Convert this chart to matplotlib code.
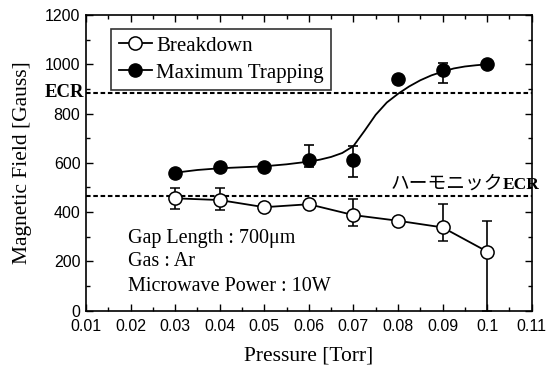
import matplotlib
matplotlib.use("Agg")
import matplotlib.pyplot as plt
from matplotlib.lines import Line2D
from matplotlib.ticker import MultipleLocator

# ---- data ----
pressure = [0.03, 0.04, 0.05, 0.06, 0.07, 0.08, 0.09, 0.1]

breakdown = [456, 449, 420, 432, 388, 365, 338, 240]
breakdown_err_lo = [43, 40, 0, 0, 43, 0, 55, 240]
breakdown_err_hi = [43, 50, 0, 0, 65, 0, 95, 124]

trapping = [560, 582, 584, 610, 610, 939, 977, 1000]
trapping_err_lo = [0, 0, 0, 26, 66, 0, 54, 0]
trapping_err_hi = [0, 0, 0, 62, 60, 0, 27, 0]

fit_x = [0.03, 0.035, 0.04, 0.045, 0.05, 0.055, 0.06, 0.0625, 0.065, 0.0675,
         0.07, 0.0725, 0.075, 0.0775, 0.08, 0.0825, 0.085, 0.0875, 0.09,
         0.0925, 0.095, 0.0975, 0.1]
fit_y = [560, 571, 578, 582, 586, 594, 605, 613, 624, 640,
         668, 730, 795, 845, 880, 910, 935, 955, 970,
         983, 991, 996, 1000]

ecr_level = 885
harmonic_level = 464

xticks = [0.01, 0.02, 0.03, 0.04, 0.05, 0.06, 0.07, 0.08, 0.09, 0.1, 0.11]
xtick_labels = ["0.01", "0.02", "0.03", "0.04", "0.05", "0.06", "0.07",
                "0.08", "0.09", "0.1", "0.11"]
yticks = [0, 200, 400, 600, 800, 1000, 1200]

serif = "Liberation Serif"
sans = "Liberation Sans"

fig = plt.figure(figsize=(5.47, 3.74), dpi=100)
ax = fig.add_axes([0.1572, 0.1693, 0.8148, 0.7906])

ax.set_xlim(0.01, 0.11)
ax.set_ylim(0, 1200)

# reference lines
ax.axhline(ecr_level, color="black", lw=1.5, ls=(0, (2.2, 1.3)), zorder=1)
ax.axhline(harmonic_level, color="black", lw=1.5, ls=(0, (2.2, 1.3)), zorder=1)

# fitted curve for trapping
ax.plot(fit_x, fit_y, color="black", lw=1.3, zorder=2)

# breakdown
ax.errorbar(pressure, breakdown, yerr=[breakdown_err_lo, breakdown_err_hi],
            fmt="o-", color="black", mfc="white", mec="black", ms=9.5,
            mew=1.1, lw=1.3, ecolor="black", elinewidth=1.2, capsize=3.5,
            capthick=1.2, zorder=3)

# maximum trapping (markers only, curve above)
ax.errorbar(pressure, trapping, yerr=[trapping_err_lo, trapping_err_hi],
            fmt="o", color="black", mfc="black", mec="black", ms=9.5,
            ecolor="black", elinewidth=1.2, capsize=3.5, capthick=1.2,
            zorder=3)

# ticks
ax.set_xticks(xticks)
ax.set_xticklabels(xtick_labels)
ax.set_yticks(yticks)
ax.xaxis.set_minor_locator(MultipleLocator(0.005))
ax.yaxis.set_minor_locator(MultipleLocator(100))
ax.tick_params(which="both", direction="in", top=True, right=True,
               width=1.0, color="black")
ax.tick_params(which="major", length=5)
ax.tick_params(which="minor", length=3)
for lab in ax.get_xticklabels() + ax.get_yticklabels():
    lab.set_fontfamily(sans)
    lab.set_fontsize(11.5)
ax.tick_params(axis="x", pad=6)
ax.tick_params(axis="y", pad=4)

for sp in ax.spines.values():
    sp.set_linewidth(1.2)

ax.set_xlabel("Pressure [Torr]", fontfamily=serif, fontsize=15.5, labelpad=9)
ax.set_ylabel("Magnetic Field [Gauss]", fontfamily=serif, fontsize=15.5,
              labelpad=9)

# legend
handles = [
    Line2D([], [], color="black", lw=1.3, marker="o", ms=9.5, mfc="white",
           mec="black", mew=1.1),
    Line2D([], [], color="black", lw=1.3, marker="o", ms=9.5, mfc="black",
           mec="black"),
]
leg = ax.legend(handles, ["Breakdown", "Maximum Trapping"],
                loc="upper left", bbox_to_anchor=(0.057, 0.953),
                prop={"family": serif, "size": 15}, frameon=True,
                fancybox=False, edgecolor="black", handlelength=1.6,
                handletextpad=0.2, borderpad=0.35, labelspacing=0.35,
                borderaxespad=0)
leg.get_frame().set_linewidth(1.2)
leg.set_zorder(5)

# annotations
ax.text(-0.004, ecr_level, "ECR", transform=ax.get_yaxis_transform(),
        ha="right", va="center", fontfamily=serif, fontweight="bold",
        fontsize=13.5)
ax.text(1.018, harmonic_level + 12, "ECR", transform=ax.get_yaxis_transform(),
        ha="right", va="bottom", fontfamily=serif, fontweight="bold",
        fontsize=12.5)
ax.text(0.935, harmonic_level + 12, "ハーモニック",
        transform=ax.get_yaxis_transform(), ha="right", va="bottom",
        fontfamily=["Noto Sans CJK JP"], fontsize=13.5)

ax.text(0.094, 0.245, "Gap Length : 700μm", transform=ax.transAxes,
        fontfamily=serif, fontsize=14.5, va="center", ha="left")
ax.text(0.094, 0.166, "Gas : Ar", transform=ax.transAxes,
        fontfamily=serif, fontsize=14.5, va="center", ha="left")
ax.text(0.094, 0.081, "Microwave Power : 10W", transform=ax.transAxes,
        fontfamily=serif, fontsize=14.5, va="center", ha="left")

fig.savefig("out.png", dpi=100)
